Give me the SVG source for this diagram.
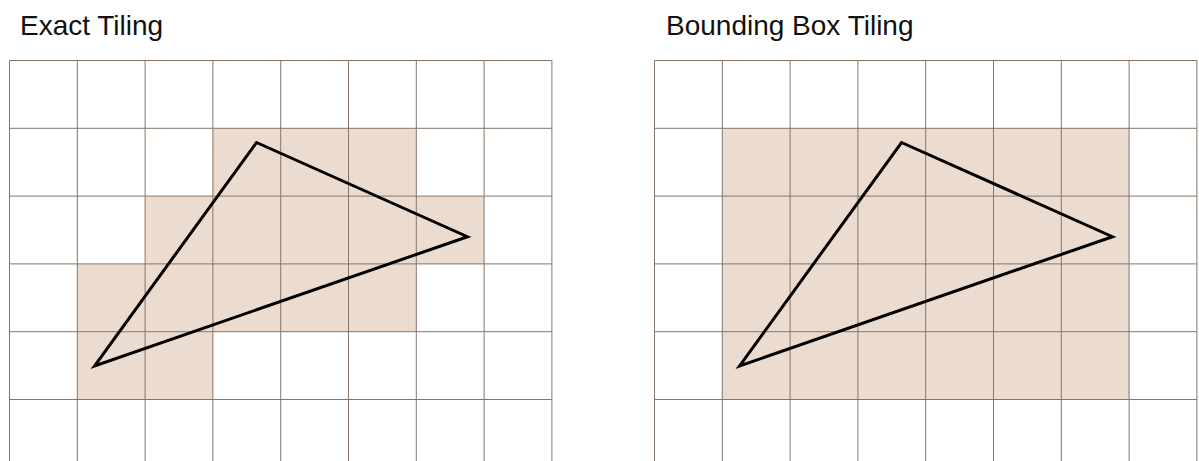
<svg xmlns="http://www.w3.org/2000/svg" width="1199" height="461" viewBox="0 0 1199 461">
<style>
.title{font-family:"Liberation Sans",Arial,sans-serif;font-size:28px;fill:#111}
.cell{fill:#ecdbcf}
.grid{stroke:#857569;stroke-width:1;fill:none}
.tri{fill:none;stroke:#000;stroke-width:3;stroke-linejoin:miter}
</style>
<rect width="1199" height="461" fill="#fff"/>
<g id="exact">
<text class="title" x="20" y="35">Exact Tiling</text>
<g id="exact-cells">
<rect class="cell" x="212.9" y="128.3" width="203.4" height="67.8"/>
<rect class="cell" x="145.1" y="196.1" width="339" height="67.8"/>
<rect class="cell" x="77.3" y="263.9" width="339" height="67.8"/>
<rect class="cell" x="77.3" y="331.7" width="135.6" height="67.8"/>
</g>
<g id="exact-grid" class="grid">
<path d="M9.5,60.5V461M77.3,60.5V461M145.1,60.5V461M212.9,60.5V461M280.7,60.5V461M348.5,60.5V461M416.3,60.5V461M484.1,60.5V461M551.9,60.5V461"/>
<path d="M9.5,60.5H551.9M9.5,128.3H551.9M9.5,196.1H551.9M9.5,263.9H551.9M9.5,331.7H551.9M9.5,399.5H551.9"/>
</g>
<polygon id="exact-triangle" class="tri" points="256.5,142.5 467.5,236.7 94.5,366"/>
</g>
<g id="bbox">
<text class="title" x="666" y="35">Bounding Box Tiling</text>
<rect id="bbox-cells" class="cell" x="722.3" y="128.3" width="406.8" height="271.2"/>
<g id="bbox-grid" class="grid">
<path d="M654.5,60.5V461M722.3,60.5V461M790.1,60.5V461M857.9,60.5V461M925.7,60.5V461M993.5,60.5V461M1061.3,60.5V461M1129.1,60.5V461M1196.9,60.5V461"/>
<path d="M654.5,60.5H1196.9M654.5,128.3H1196.9M654.5,196.1H1196.9M654.5,263.9H1196.9M654.5,331.7H1196.9M654.5,399.5H1196.9"/>
</g>
<polygon id="bbox-triangle" class="tri" points="901.5,142.5 1112.5,236.7 739.5,366"/>
</g>
</svg>
